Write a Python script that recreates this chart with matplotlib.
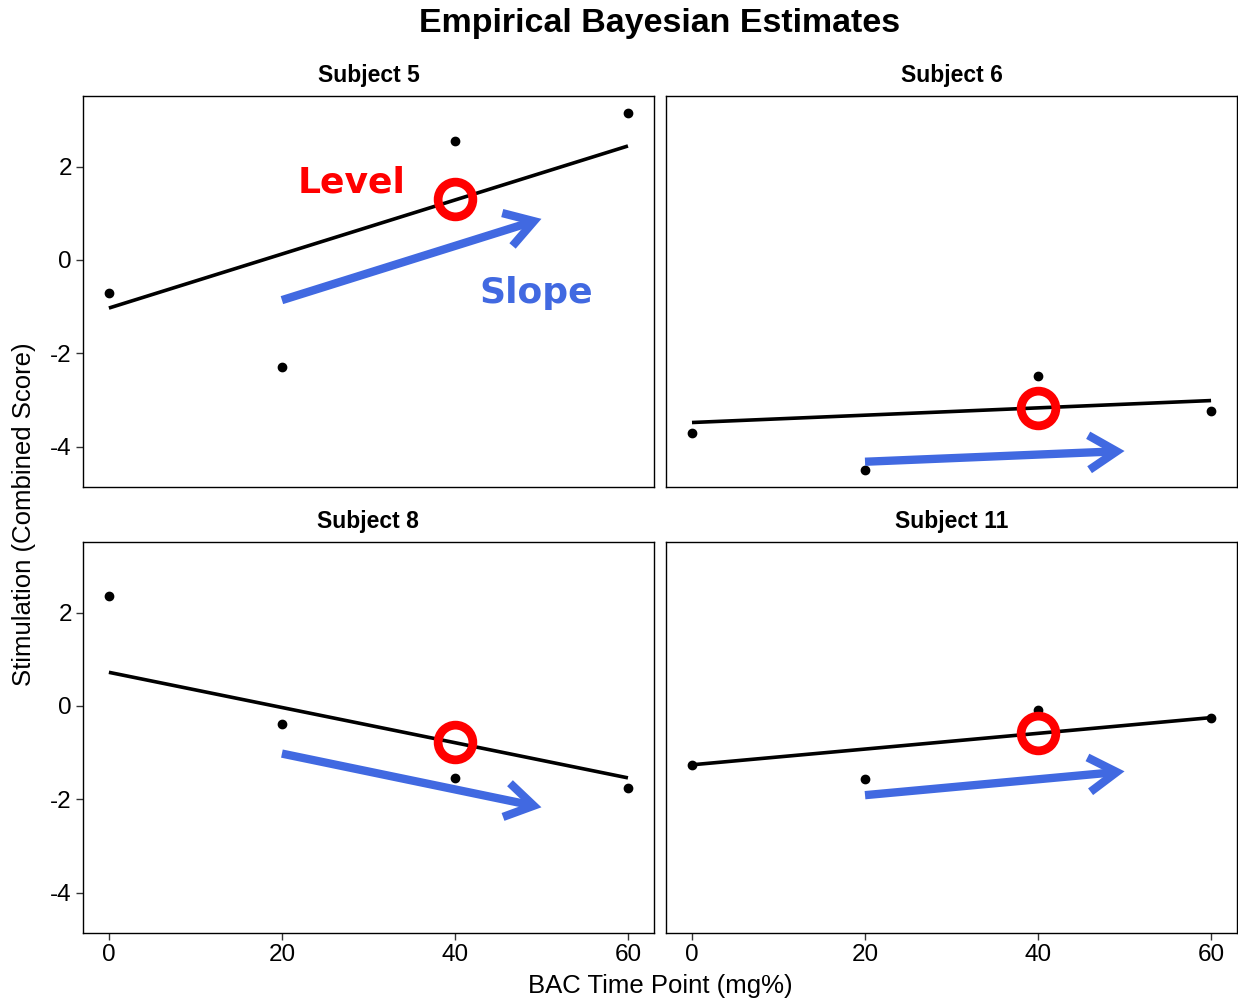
import numpy as np
import matplotlib as mpl
mpl.use('Agg')
import matplotlib.pyplot as plt

plt.rcParams['font.family'] = ['Liberation Sans', 'DejaVu Sans']
plt.rcParams['axes.unicode_minus'] = False

subjects = ['Subject 5', 'Subject 6', 'Subject 8', 'Subject 11']
time_points = [0, 20, 40, 60]
scores = [
    [-0.71, -2.29, 2.55, 3.15],
    [-3.71, -4.50, -2.49, -3.24],
    [2.36, -0.39, -1.54, -1.76],
    [-1.26, -1.57, -0.09, -0.25],
]
# fitted line per subject, evaluated at the first and last time point
fit_x = [0, 60]
fit_y = [
    [-1.03, 2.44],
    [-3.48, -3.01],
    [0.72, -1.54],
    [-1.26, -0.25],
]
# level marker and slope arrow
level_x = 40
level_y = [1.31, -3.17, -0.78, -0.58]
slope_x = [20, 50]
slope_y = [
    [-0.86, 0.88],
    [-4.32, -4.09],
    [-1.02, -2.17],
    [-1.91, -1.40],
]
xticks = [0, 20, 40, 60]
yticks = [-4, -2, 0, 2]

ARROW_BLUE = '#4169E1'


def draw_panel(ax, i, show_x, show_y):
    ax.plot(fit_x, fit_y[i], color='black', lw=2.6, solid_capstyle='butt', zorder=2)
    ax.plot(time_points, scores[i], 'o', color='black', ms=6, zorder=3)
    ax.annotate('', xy=(slope_x[1], slope_y[i][1]), xytext=(slope_x[0], slope_y[i][0]),
                arrowprops=dict(arrowstyle='->,head_length=1.0,head_width=0.62',
                                lw=6, color=ARROW_BLUE, shrinkA=0, shrinkB=0,
                                mutation_scale=20, joinstyle='miter', capstyle='butt'),
                zorder=4)
    ax.plot(level_x, level_y[i], 'o', mfc='none', mec='red', ms=25, mew=6.3, zorder=5)

    ax.set_xlim(-3, 63)
    ax.set_ylim(-4.86, 3.51)
    ax.set_xticks(xticks)
    ax.set_yticks(yticks)
    for s in ax.spines.values():
        s.set_linewidth(1.0)
        s.set_color('black')
    ax.tick_params(length=5, width=1, labelsize=17.5, color='#333333', pad=3,
                   bottom=show_x, labelbottom=show_x, left=show_y, labelleft=show_y)
    ax.text(0.5, 1 + 20 / 391, subjects[i], transform=ax.transAxes,
            ha='center', va='center', fontsize=16.5, fontweight='bold')


def main():
    fig = plt.figure(figsize=(12.38, 10.02), dpi=100)
    lefts = [0.0670, 0.5380]
    bottoms = [0.5140, 0.0689]
    w, h = 0.4612, 0.3902

    axes = []
    for r in range(2):
        for c in range(2):
            ax = fig.add_axes([lefts[c], bottoms[r], w, h])
            draw_panel(ax, r * 2 + c, show_x=(r == 1), show_y=(c == 0))
            axes.append(ax)

    ax0 = axes[0]
    ax0.text(28.1, 1.65, 'Level', color='red', fontsize=26, fontweight='bold',
             family='DejaVu Sans', ha='center', va='center', zorder=6)
    ax0.text(49.4, -0.71, 'Slope', color=ARROW_BLUE, fontsize=26, fontweight='bold',
             family='DejaVu Sans', ha='center', va='center', zorder=6)

    fig.text(0.533, 0.977, 'Empirical Bayesian Estimates', ha='center', va='center',
             fontsize=24.5, fontweight='bold')
    fig.text(0.5335, 0.016, 'BAC Time Point (mg%)', ha='center', va='center', fontsize=18.5)
    fig.text(0.0194, 0.487, 'Stimulation (Combined Score)', ha='center', va='center',
             rotation=90, fontsize=18.5)

    fig.savefig('out.png', dpi=100, facecolor='white')


if __name__ == '__main__':
    main()
